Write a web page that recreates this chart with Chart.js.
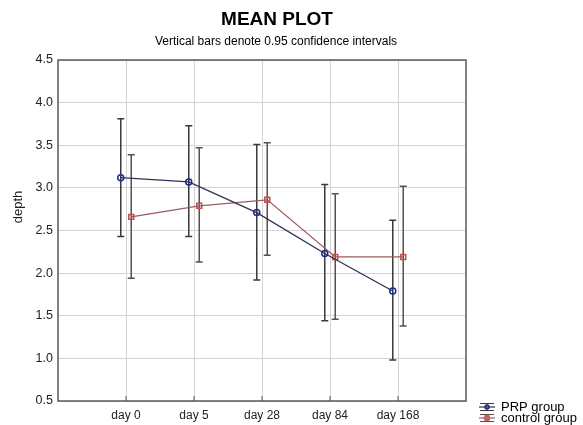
<!DOCTYPE html>
<html>
<head>
<meta charset="utf-8">
<script src="https://cdn.jsdelivr.net/npm/chart.js@4"></script>
<style>
html,body{margin:0;padding:0;background:#fff;}
#wrap{width:583px;height:425px;position:relative;}
</style>
</head>
<body>
<div id="wrap"><canvas id="c" width="583" height="425"></canvas></div>
<script>
const categories = ["day 0", "day 5", "day 28", "day 84", "day 168"];
const prpMean  = [3.12, 3.07, 2.71, 2.23, 1.79];
const prpLow   = [2.43, 2.43, 1.92, 1.44, 0.98];
const prpHigh  = [3.81, 3.73, 3.51, 3.04, 2.62];
const ctrlMean = [2.66, 2.79, 2.86, 2.19, 2.19];
const ctrlLow  = [1.94, 2.13, 2.21, 1.46, 1.38];
const ctrlHigh = [3.39, 3.47, 3.53, 2.93, 3.02];
const seriesNames = ["PRP group", "control group"];
const titleText = "MEAN PLOT";
const subtitleText = "Vertical bars denote 0.95 confidence intervals";
const yTitle = "depth";

const OFF = 0.077;
const FONT = "'Liberation Sans', Arial, sans-serif";
const PRP_LINE = "#2f3158", PRP_MARK = "#1c2a8a", PRP_ERR = "#3a3a3a";
const CT_LINE = "#9a5c5c", CT_MARK = "#c0504d", CT_ERR = "#5e4e4e";

const prpPts = categories.map((c, i) => ({x: i + 1 - OFF, y: prpMean[i]}));
const ctPts = categories.map((c, i) => ({x: i + 1 + OFF, y: ctrlMean[i]}));

const errPlugin = {
  id: 'errbars',
  beforeDatasetsDraw(chart) {
    const ctx = chart.ctx, xs = chart.scales.x, ys = chart.scales.y;
    const draw = (i, off, lo, hi, col) => {
      const x = xs.getPixelForValue(i + 1 + off);
      const y1 = ys.getPixelForValue(lo), y2 = ys.getPixelForValue(hi);
      ctx.save();
      ctx.strokeStyle = col; ctx.lineWidth = 1.5;
      ctx.beginPath();
      ctx.moveTo(x, y1); ctx.lineTo(x, y2);
      ctx.moveTo(x - 3.5, y1); ctx.lineTo(x + 3.5, y1);
      ctx.moveTo(x - 3.5, y2); ctx.lineTo(x + 3.5, y2);
      ctx.stroke();
      ctx.restore();
    };
    categories.forEach((c, i) => {
      draw(i, -OFF, prpLow[i], prpHigh[i], PRP_ERR);
      draw(i, OFF, ctrlLow[i], ctrlHigh[i], CT_ERR);
    });
  },
  afterDraw(chart) {
    const ctx = chart.ctx, a = chart.chartArea;
    ctx.save();
    // plot frame
    ctx.strokeStyle = "#5a5a5a"; ctx.lineWidth = 1.5;
    ctx.strokeRect(a.left, a.top, a.right - a.left, a.bottom - a.top);
    // small inner ticks on x axis
    ctx.lineWidth = 1; ctx.strokeStyle = "#555";
    categories.forEach((c, i) => {
      const x = chart.scales.x.getPixelForValue(i + 1);
      ctx.beginPath(); ctx.moveTo(x, a.bottom); ctx.lineTo(x, a.bottom - 5); ctx.stroke();
    });
    // titles
    ctx.fillStyle = "#000";
    ctx.textAlign = "center"; ctx.textBaseline = "middle";
    ctx.font = "bold 19px " + FONT;
    ctx.fillText(titleText, 277, 20);
    ctx.font = "12px " + FONT;
    ctx.fillText(subtitleText, 276, 42);
    // y axis title
    ctx.save();
    ctx.translate(18, 207);
    ctx.rotate(-Math.PI / 2);
    ctx.fillStyle = "#222";
    ctx.font = "13px " + FONT;
    ctx.fillText(yTitle, 0, 0);
    ctx.restore();
    // legend
    const items = [
      {name: seriesNames[0], line: PRP_LINE, mark: PRP_MARK, err: PRP_ERR, sq: false, y: 407},
      {name: seriesNames[1], line: CT_LINE, mark: CT_MARK, err: CT_ERR, sq: true, y: 418}
    ];
    items.forEach(it => {
      const cx = 487;
      ctx.strokeStyle = it.err; ctx.lineWidth = 1;
      ctx.beginPath();
      ctx.moveTo(cx, it.y - 3.5); ctx.lineTo(cx, it.y + 3.5);
      ctx.moveTo(cx - 7, it.y - 3.5); ctx.lineTo(cx + 7, it.y - 3.5);
      ctx.moveTo(cx - 7, it.y + 3.5); ctx.lineTo(cx + 7, it.y + 3.5);
      ctx.stroke();
      ctx.strokeStyle = it.line; ctx.lineWidth = 1.2;
      ctx.beginPath(); ctx.moveTo(cx - 8, it.y); ctx.lineTo(cx + 8, it.y); ctx.stroke();
      ctx.strokeStyle = it.mark; ctx.lineWidth = 1.5;
      ctx.beginPath();
      if (it.sq) ctx.rect(cx - 2, it.y - 2, 4, 4); else ctx.arc(cx, it.y, 2, 0, Math.PI * 2);
      ctx.stroke();
      ctx.fillStyle = "#000"; ctx.textAlign = "left"; ctx.textBaseline = "middle";
      ctx.font = "13px " + FONT;
      ctx.fillText(it.name, 501, it.y);
    });
    ctx.restore();
  }
};

new Chart(document.getElementById('c'), {
  type: 'line',
  data: {
    datasets: [
      {label: seriesNames[0], data: prpPts, borderColor: PRP_LINE, borderWidth: 1.3,
       pointStyle: 'circle', pointRadius: 3, pointBorderColor: PRP_MARK, pointBorderWidth: 1.5,
       pointBackgroundColor: 'rgba(255,255,255,0)', tension: 0, fill: false},
      {label: seriesNames[1], data: ctPts, borderColor: CT_LINE, borderWidth: 1.3,
       pointStyle: 'rect', pointRadius: 3.5, pointBorderColor: CT_MARK, pointBorderWidth: 1.5,
       pointBackgroundColor: 'rgba(255,255,255,0)', tension: 0, fill: false}
    ]
  },
  options: {
    responsive: false,
    animation: false,
    devicePixelRatio: 1,
    layout: {padding: {left: 0, right: 117, top: 60, bottom: 0}},
    plugins: {legend: {display: false}, tooltip: {enabled: false}, title: {display: false}},
    scales: {
      x: {
        type: 'linear', min: 0, max: 6,
        afterFit(s) { s.height = 24; },
        afterBuildTicks(s) { s.ticks = categories.map((c, i) => ({value: i + 1})); },
        ticks: {
          autoSkip: false, maxRotation: 0, padding: 7, color: '#222',
          font: {family: FONT, size: 12},
          callback: (v) => categories[v - 1] || ''
        },
        grid: {color: '#d4d4d4', lineWidth: 1, drawTicks: false},
        border: {display: false}
      },
      y: {
        min: 0.5, max: 4.5,
        afterFit(s) { s.width = 58; },
        ticks: {
          stepSize: 0.5, padding: 5, color: '#222',
          font: {family: FONT, size: 12.5},
          callback: (v) => Number(v).toFixed(1)
        },
        grid: {color: '#d4d4d4', lineWidth: 1, drawTicks: false},
        border: {display: false},
        title: {display: false}
      }
    }
  },
  plugins: [errPlugin]
});
</script>
</body>
</html>
